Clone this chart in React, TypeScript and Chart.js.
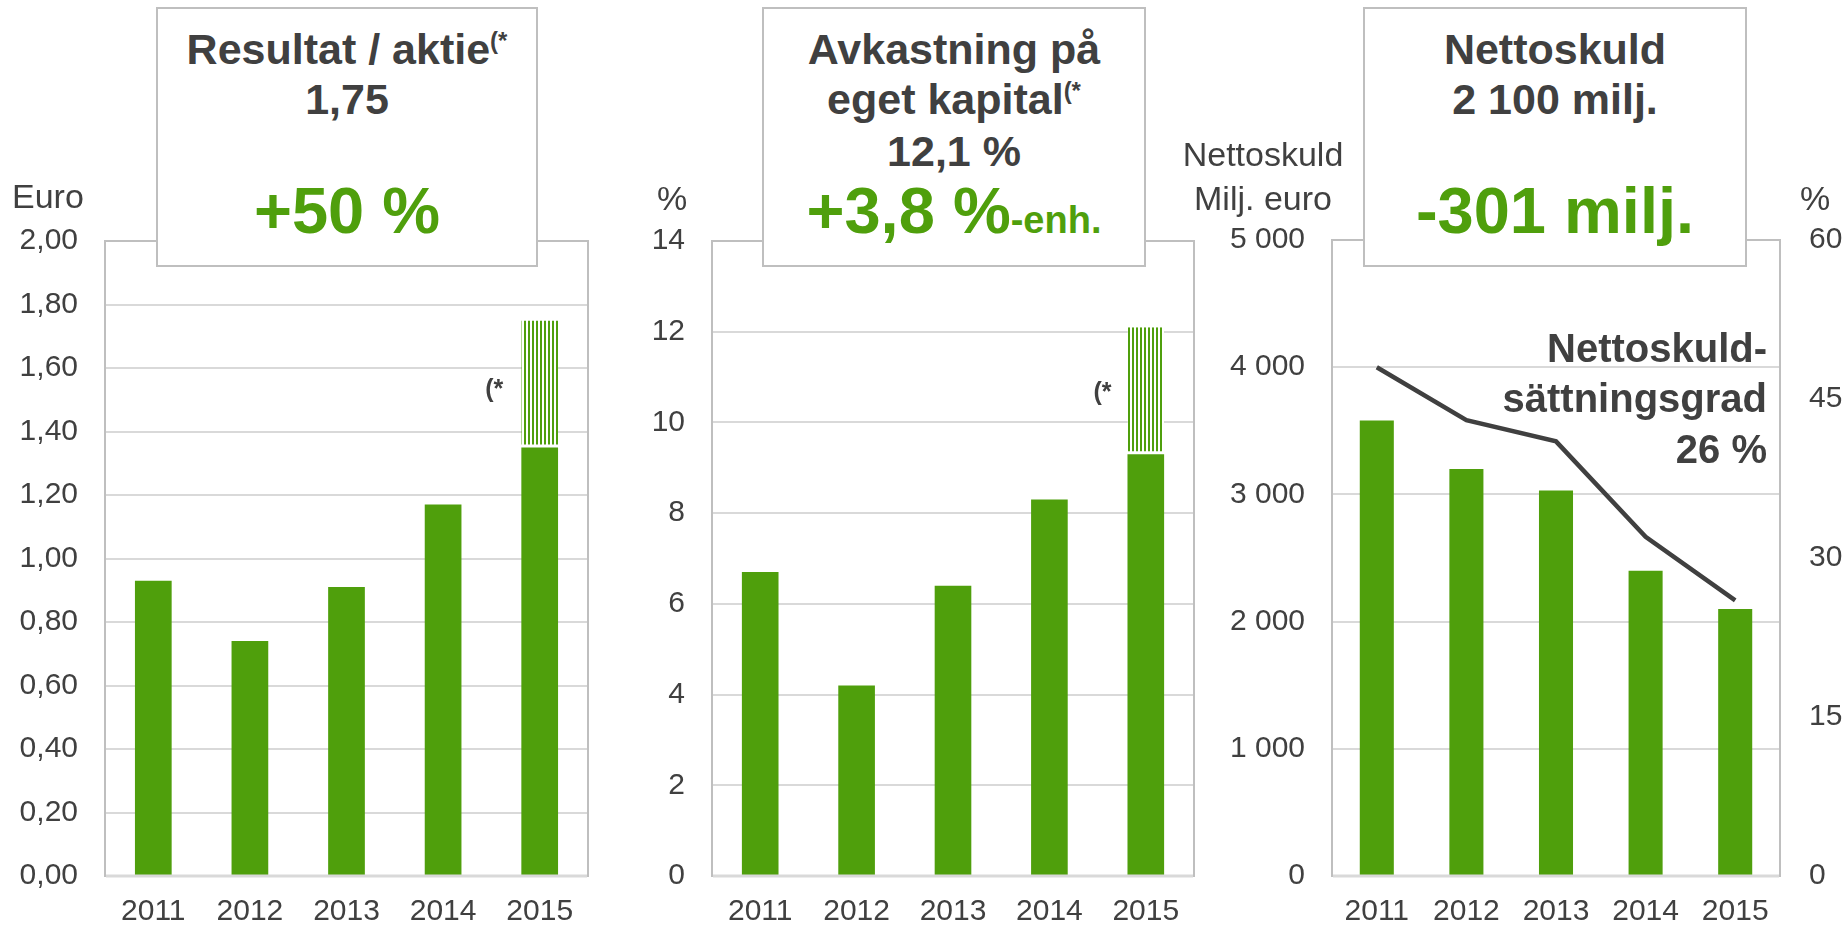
import React, { useEffect, useRef } from 'react';
import { Chart, registerables } from 'chart.js';

Chart.register(...registerables);

// ---------- data ----------
const years = ['2011', '2012', '2013', '2014', '2015'];

const epsReported = [0.93, 0.74, 0.91, 1.17, 1.35];
const epsAdjusted = [null, null, null, null, 0.4];
const epsTicks = { min: 0, max: 2, step: 0.2 };

const roeReported = [6.7, 4.2, 6.4, 8.3, 9.3];
const roeAdjusted = [null, null, null, null, 2.8];
const roeTicks = { min: 0, max: 14, step: 2 };

const netDebt = [3580, 3200, 3030, 2400, 2100];
const gearing = [48, 43, 41, 32, 26];
const debtTicks = { min: 0, max: 5000, step: 1000 };
const gearingTicks = { min: 0, max: 60, step: 15 };

// ---------- styles ----------
const FONT = '"Liberation Sans", Arial, Helvetica, sans-serif';
const GREEN = '#4F9F0C';
const DARK = '#404040';
const GRID = '#D9D9D9';
const FRAME = '#BFBFBF';

function makeHatch(): CanvasPattern | string {
  const c = document.createElement('canvas');
  c.width = 4;
  c.height = 4;
  const g = c.getContext('2d');
  if (!g) return GREEN;
  g.fillStyle = '#ffffff';
  g.fillRect(0, 0, 4, 4);
  g.fillStyle = GREEN;
  g.fillRect(0, 0, 2, 4);
  return g.createPattern(c, 'repeat') || GREEN;
}

const framePlugin = {
  id: 'frame',
  beforeDatasetsDraw(chart: any) {
    const { ctx, chartArea: a } = chart;
    ctx.save();
    ctx.strokeStyle = FRAME;
    ctx.lineWidth = 2;
    ctx.strokeRect(a.left, a.top, a.right - a.left, a.bottom - a.top);
    ctx.restore();
  },
  afterDatasetsDraw(chart: any) {
    const { ctx, chartArea: a } = chart;
    ctx.save();
    ctx.strokeStyle = GRID;
    ctx.lineWidth = 3;
    ctx.beginPath();
    ctx.moveTo(a.left + 1, a.bottom);
    ctx.lineTo(a.right - 1, a.bottom);
    ctx.stroke();
    ctx.restore();
  },
};

function starPlugin(gap: number, dy: number) {
  return {
    id: 'star',
    afterDatasetsDraw(chart: any) {
      const meta = chart.getDatasetMeta(1);
      const el = meta && meta.data && meta.data[4];
      if (!el) return;
      const { ctx } = chart;
      ctx.save();
      ctx.fillStyle = DARK;
      ctx.font = `bold 25px ${FONT}`;
      ctx.textAlign = 'right';
      ctx.textBaseline = 'middle';
      ctx.fillText('(*', el.x - el.width / 2 - gap, (el.y + el.base) / 2 + dy);
      ctx.restore();
    },
  };
}

const tickFont = { family: FONT, size: 30 };
const xFont = { family: FONT, size: 30 };

function xScale() {
  return {
    stacked: true,
    grid: { display: false, drawTicks: false },
    border: { display: false },
    ticks: { color: DARK, font: xFont, padding: 18, maxRotation: 0, autoSkip: false },
    afterFit: (s: any) => {
      s.height = 53;
    },
  };
}

function yScale(t: { min: number; max: number; step: number }, width: number, fmt: (v: number) => string) {
  return {
    stacked: true,
    min: t.min,
    max: t.max,
    ticks: {
      stepSize: t.step,
      color: DARK,
      font: tickFont,
      padding: 27,
      callback: (v: any) => fmt(Number(v)),
    },
    grid: { color: GRID, lineWidth: 2, drawTicks: false },
    border: { display: false },
    afterFit: (s: any) => {
      s.width = width;
    },
  };
}

const baseOptions = {
  animation: false,
  responsive: false,
  devicePixelRatio: 1,
  events: [],
  plugins: { legend: { display: false }, tooltip: { enabled: false } },
};

function fmtThousands(v: number): string {
  const n = Math.round(v);
  if (n >= 1000) {
    const th = Math.floor(n / 1000);
    const rest = String(n % 1000).padStart(3, '0');
    return `${th} ${rest}`;
  }
  return String(n);
}

function splitBarConfig(
  base: (number | null)[],
  adj: (number | null)[],
  ticks: { min: number; max: number; step: number },
  yWidth: number,
  rightPad: number,
  fmt: (v: number) => string,
  starGap: number,
  starDy: number
) {
  return {
    type: 'bar',
    data: {
      labels: years,
      datasets: [
        {
          data: base,
          backgroundColor: GREEN,
          borderWidth: 0,
          categoryPercentage: 1,
          barPercentage: 0.38,
        },
        {
          data: adj,
          backgroundColor: makeHatch(),
          borderColor: '#ffffff',
          borderWidth: { top: 0, left: 0, right: 0, bottom: 3 },
          borderSkipped: false,
          categoryPercentage: 1,
          barPercentage: 0.38,
        },
      ],
    },
    options: {
      ...baseOptions,
      layout: { padding: { top: 241, right: rightPad, left: 0, bottom: 0 } },
      scales: {
        x: xScale(),
        y: yScale(ticks, yWidth, fmt),
      },
    },
    plugins: [framePlugin, starPlugin(starGap, starDy)],
  };
}

function debtConfig() {
  return {
    type: 'bar',
    data: {
      labels: years,
      datasets: [
        {
          type: 'line',
          data: gearing,
          yAxisID: 'y2',
          borderColor: DARK,
          borderWidth: 4.5,
          pointRadius: 0,
          tension: 0,
          fill: false,
          order: 0,
        },
        {
          type: 'bar',
          data: netDebt,
          yAxisID: 'y',
          backgroundColor: GREEN,
          borderWidth: 0,
          categoryPercentage: 1,
          barPercentage: 0.38,
          order: 1,
        },
      ],
    },
    options: {
      ...baseOptions,
      layout: { padding: { top: 240, right: 0, left: 0, bottom: 0 } },
      scales: {
        x: { ...xScale(), stacked: false },
        y: { ...yScale(debtTicks, 112, fmtThousands), stacked: false },
        y2: {
          position: 'right',
          min: gearingTicks.min,
          max: gearingTicks.max,
          ticks: {
            stepSize: gearingTicks.step,
            color: DARK,
            font: tickFont,
            padding: 29,
          },
          grid: { display: false, drawTicks: false },
          border: { display: false },
          afterFit: (s: any) => {
            s.width = 68;
          },
        },
      },
    },
    plugins: [framePlugin],
  };
}

function CanvasChart({ left, width, build }: { left: number; width: number; build: () => any }) {
  const ref = useRef<HTMLCanvasElement | null>(null);
  useEffect(() => {
    if (!ref.current) return;
    const chart = new Chart(ref.current, build());
    return () => chart.destroy();
  }, []);
  return (
    <canvas
      ref={ref}
      width={width}
      height={929}
      style={{ position: 'absolute', left, top: 0, width, height: 929, zIndex: 1 }}
    />
  );
}

function TextLine({
  left,
  width,
  baseline,
  size,
  color = DARK,
  bold = true,
  align = 'center',
  right,
  children,
}: any) {
  const lh = Math.round(size * 1.2);
  const top = baseline - ((lh - size * 1.117) / 2 + size * 0.905);
  const style: any = {
    position: 'absolute',
    top,
    fontSize: size,
    lineHeight: `${lh}px`,
    fontWeight: bold ? 'bold' : 'normal',
    color,
    textAlign: align,
    whiteSpace: 'nowrap',
    zIndex: 3,
  };
  if (right !== undefined) style.right = right;
  else {
    style.left = left;
    if (width !== undefined) style.width = width;
  }
  return <div style={style}>{children}</div>;
}

function Box({ left, width }: { left: number; width: number }) {
  return (
    <div
      style={{
        position: 'absolute',
        left,
        top: 7,
        width,
        height: 260,
        boxSizing: 'border-box',
        border: `2px solid ${FRAME}`,
        background: '#ffffff',
        zIndex: 2,
      }}
    />
  );
}

const sup = (
  <span style={{ fontSize: 24, position: 'relative', top: -15, lineHeight: 1 }}>(*</span>
);

export default function App() {
  const commaFmt = (v: number) => v.toFixed(2).replace('.', ',');
  const intFmt = (v: number) => String(Math.round(v));
  return (
    <div
      style={{
        position: 'absolute',
        left: 0,
        top: 0,
        width: 1848,
        height: 929,
        background: '#ffffff',
        fontFamily: FONT,
        overflow: 'hidden',
      }}
    >
      <CanvasChart
        left={0}
        width={620}
        build={() => splitBarConfig(epsReported, epsAdjusted, epsTicks, 105, 32, commaFmt, 18, 6)}
      />
      <CanvasChart
        left={620}
        width={600}
        build={() => splitBarConfig(roeReported, roeAdjusted, roeTicks, 92, 26, intFmt, 16, 2)}
      />
      <CanvasChart left={1220} width={628} build={debtConfig} />

      {/* axis titles */}
      <TextLine left={12} baseline={208} size={34} bold={false} align="left">Euro</TextLine>
      <TextLine left={657} baseline={210} size={34} bold={false} align="left">%</TextLine>
      <TextLine left={1163} width={200} baseline={166} size={34} bold={false}>Nettoskuld</TextLine>
      <TextLine left={1163} width={200} baseline={210} size={34} bold={false}>Milj. euro</TextLine>
      <TextLine left={1800} baseline={210} size={34} bold={false} align="left">%</TextLine>

      {/* box 1 */}
      <Box left={156} width={382} />
      <TextLine left={156} width={382} baseline={64} size={43}>Resultat / aktie{sup}</TextLine>
      <TextLine left={156} width={382} baseline={114} size={43}>1,75</TextLine>
      <TextLine left={156} width={382} baseline={234} size={65} color={GREEN}>+50 %</TextLine>

      {/* box 2 */}
      <Box left={762} width={384} />
      <TextLine left={762} width={384} baseline={64} size={43}>Avkastning på</TextLine>
      <TextLine left={762} width={384} baseline={114} size={43}>eget kapital{sup}</TextLine>
      <TextLine left={762} width={384} baseline={166} size={43}>12,1 %</TextLine>
      <TextLine left={762} width={384} baseline={234} size={65} color={GREEN}>
        +3,8 %<span style={{ fontSize: 38 }}>-enh.</span>
      </TextLine>

      {/* box 3 */}
      <Box left={1363} width={384} />
      <TextLine left={1363} width={384} baseline={64} size={43}>Nettoskuld</TextLine>
      <TextLine left={1363} width={384} baseline={114} size={43}>2 100 milj.</TextLine>
      <TextLine left={1363} width={384} baseline={234} size={65} color={GREEN}>-301 milj.</TextLine>

      {/* gearing annotation */}
      <TextLine right={81} baseline={362} size={40} align="right">Nettoskuld-</TextLine>
      <TextLine right={81} baseline={412} size={40} align="right">sättningsgrad</TextLine>
      <TextLine right={81} baseline={463} size={40} align="right">26 %</TextLine>
    </div>
  );
}
